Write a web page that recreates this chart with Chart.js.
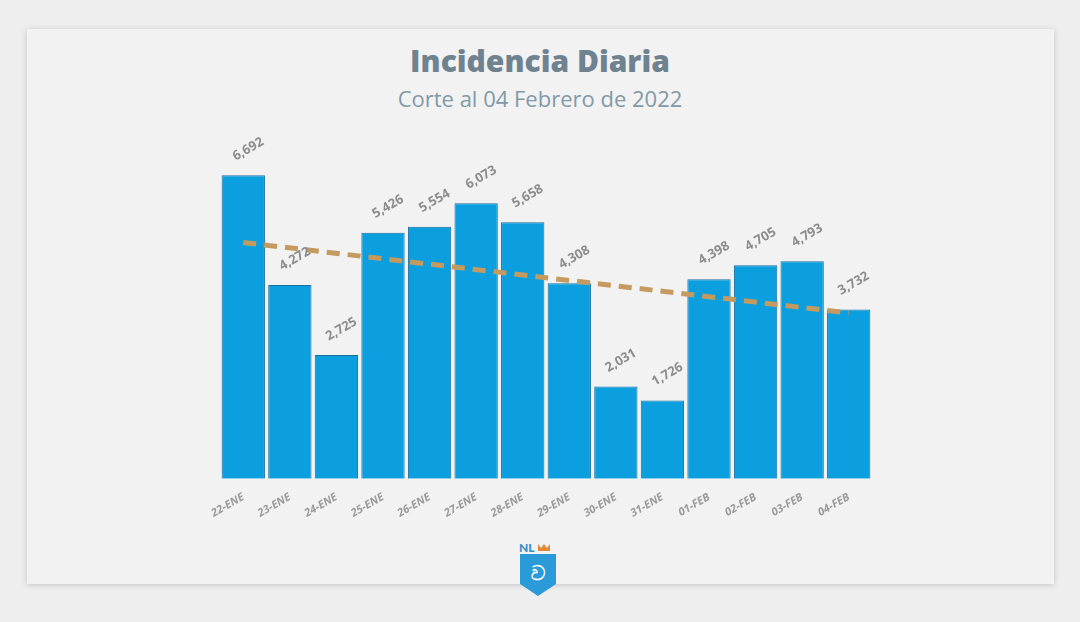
<!DOCTYPE html>
<html>
<head>
<meta charset="utf-8">
<script src="https://cdn.jsdelivr.net/npm/chart.js@4"></script>
<style>
    html, body { margin: 0; padding: 0; background: #eeeeee; }
    #wrap { position: relative; width: 1080px; height: 622px; overflow: hidden; }
    #card {
        position: absolute; left: 27px; top: 29px; width: 1027px; height: 555px;
        background: #f2f2f2; box-shadow: 0 1px 6px rgba(0,0,0,0.18);
    }
    #title {
        position: absolute; left: 0; width: 1080px; top: 40px; text-align: center;
        font-family: "Open Sans", sans-serif; font-weight: 800; font-size: 30px; color: #6f8290;
    }
    #subtitle {
        position: absolute; left: 0; width: 1080px; top: 83px; text-align: center;
        font-family: "Open Sans", sans-serif; font-size: 22px; color: #8299a8;
    }
    #logo { position: absolute; left: 516px; top: 540px; }
    canvas { position: absolute; left: 0; top: 0; }
</style>
</head>
<body>
<div id="wrap">
    <div id="card"></div>
    <div id="title">Incidencia Diaria</div>
    <div id="subtitle">Corte al 04 Febrero de 2022</div>
    <svg id="logo" width="44" height="60" viewBox="0 0 44 60">
        <text x="3" y="12" font-family="Lato, sans-serif" font-weight="900" font-size="12" fill="#3a8fc8">NL</text>
        <path d="M22 4 l3 4 l3-4 l3 4 l3-4 v7 h-12z" fill="#e08a3a"/>
        <path d="M4 14 h36 v30 l-18 12 l-18 -12z" fill="#2a9ad8"/>
        <text x="22" y="40" text-anchor="middle" font-family="DejaVu Sans" font-weight="bold" font-size="20" fill="#ffffff">ව</text>
    </svg>
    <canvas id="chart" width="1080" height="622"></canvas>
</div>
<script>
const labels = ['22-ENE', '23-ENE', '24-ENE', '25-ENE', '26-ENE', '27-ENE', '28-ENE',
    '29-ENE', '30-ENE', '31-ENE', '01-FEB', '02-FEB', '03-FEB', '04-FEB'];
const casos = [6692, 4272, 2725, 5426, 5554, 6073, 5658, 4308, 2031, 1726, 4398, 4705, 4793, 3732];
// tendencia: solo inicio y fin
const tendencia = [5210, null, null, null, null, null, null, null, null, null, null, null, null, 3655];

const barLabels = {
    id: 'barLabels',
    afterDatasetsDraw(chart) {
        const ctx = chart.ctx;
        const meta = chart.getDatasetMeta(1);
        ctx.save();
        ctx.font = 'bold 13px "Open Sans", sans-serif';
        ctx.fillStyle = '#8c8c8c';
        ctx.textAlign = 'center';
        ctx.textBaseline = 'middle';
        meta.data.forEach(function (bar, i) {
            ctx.save();
            ctx.translate(bar.x + 5, bar.y - 26);
            ctx.rotate(-30 * Math.PI / 180);
            ctx.fillText(casos[i].toLocaleString('en-US'), 0, 0);
            ctx.restore();
        });
        ctx.restore();
    }
};

new Chart(document.getElementById('chart'), {
    data: {
        labels: labels,
        datasets: [{
            type: 'line',
            data: tendencia,
            spanGaps: true,
            borderColor: '#c49a5e',
            borderWidth: 5,
            borderDash: [13, 8],
            pointRadius: 0,
            order: 0
        }, {
            type: 'bar',
            data: casos,
            backgroundColor: '#0b9fe0',
            borderColor: '#1a6f9f',
            borderWidth: 1,
            barPercentage: 0.93,
            categoryPercentage: 1,
            order: 1
        }]
    },
    plugins: [barLabels],
    options: {
        responsive: false,
        animation: false,
        layout: { padding: { left: 220, right: 208, top: 116, bottom: 98 } },
        plugins: {
            legend: { display: false },
            tooltip: { enabled: false }
        },
        scales: {
            x: {
                grid: { display: false },
                border: { display: false },
                ticks: {
                    minRotation: 30,
                    maxRotation: 30,
                    color: '#9a9a9a',
                    padding: 4,
                    font: { family: '"Open Sans", sans-serif', size: 11, style: 'italic', weight: 'bold' }
                }
            },
            y: {
                display: false,
                min: 0,
                max: 8000
            }
        }
    }
});
</script>
</body>
</html>
